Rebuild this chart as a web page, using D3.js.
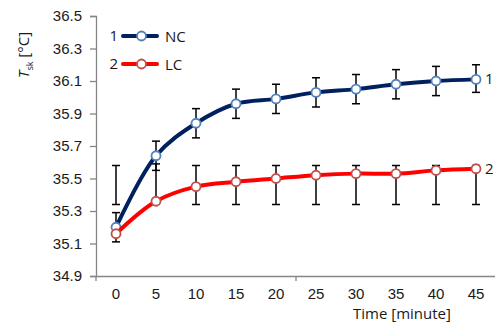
<!DOCTYPE html>
<html>
<head>
<meta charset="utf-8">
<script src="https://cdn.jsdelivr.net/npm/d3@7"></script>
<style>
  body { margin: 0; background: #fff; }
  svg { font-family: "Open Sans", sans-serif; }
</style>
</head>
<body>
<svg id="chart" width="495" height="325"></svg>
<script>
// time points (minutes)
var times = [0, 5, 10, 15, 20, 25, 30, 35, 40, 45];

// NC series + error bars
var ncMean = [35.20, 35.64, 35.84, 35.96, 35.99, 36.03, 36.05, 36.08, 36.10, 36.11];
var ncLow  = [35.11, 35.55, 35.75, 35.87, 35.90, 35.94, 35.96, 35.99, 36.01, 36.03];
var ncHigh = [35.29, 35.73, 35.93, 36.05, 36.08, 36.12, 36.14, 36.17, 36.19, 36.20];

// LC series + error bars (as drawn in the original)
var lcMean = [35.16, 35.36, 35.45, 35.48, 35.50, 35.52, 35.53, 35.53, 35.55, 35.56];
var lcLow  = [35.34, 35.36, 35.34, 35.34, 35.34, 35.34, 35.34, 35.34, 35.34, 35.34];
var lcHigh = [35.58, 35.59, 35.58, 35.58, 35.58, 35.58, 35.58, 35.58, 35.58, 35.58];

var yTicks = [34.9, 35.1, 35.3, 35.5, 35.7, 35.9, 36.1, 36.3, 36.5];

var svg = d3.select("#chart");
var plotLeft = 96, plotRight = 496, plotTop = 16, plotBottom = 276;

var x = d3.scaleBand().domain(times).range([plotLeft, plotRight]).padding(0);
var y = d3.scaleLinear().domain([34.9, 36.5]).range([plotBottom, plotTop]);
var cx = function(i) { return x(times[i]) + x.bandwidth() / 2; };

var axisColor = "#868686", textColor = "#1a1a1a";

// y axis
var yAxis = svg.append("g")
    .attr("transform", "translate(" + plotLeft + ",0)")
    .call(d3.axisLeft(y).tickValues(yTicks).tickSize(6).tickPadding(8)
        .tickFormat(d3.format(".1f")));
yAxis.select(".domain").attr("stroke", axisColor).attr("stroke-width", 1.3);
yAxis.selectAll(".tick line").attr("stroke", axisColor).attr("stroke-width", 1.3);
yAxis.selectAll("text").attr("fill", textColor).style("font-size", "15px");

// x axis: labels centred, ticks every 5 categories on the boundaries
var xAxis = svg.append("g")
    .attr("transform", "translate(0," + plotBottom + ")")
    .call(d3.axisBottom(x).tickSize(0).tickPadding(12));
xAxis.select(".domain").attr("stroke", axisColor).attr("stroke-width", 1.3);
xAxis.selectAll("text").attr("fill", textColor).style("font-size", "15px");
xAxis.selectAll(".bticks")
    .data([0, 5, 10])
    .enter().append("line")
    .attr("x1", function(d) { return plotLeft + d * x.bandwidth(); })
    .attr("x2", function(d) { return plotLeft + d * x.bandwidth(); })
    .attr("y1", 0).attr("y2", 5)
    .attr("stroke", axisColor).attr("stroke-width", 1.3);

// axis titles
svg.append("text")
    .attr("x", 402).attr("y", 319)
    .attr("text-anchor", "middle")
    .attr("fill", textColor)
    .style("font-size", "15px")
    .text("Time [minute]");

var yt = svg.append("text")
    .attr("transform", "translate(29,55) rotate(-90)")
    .attr("text-anchor", "middle")
    .attr("fill", textColor)
    .style("font-size", "15px");
yt.append("tspan").style("font-style", "italic").text("T");
yt.append("tspan").attr("dy", 4).style("font-size", "9px").text("sk");
yt.append("tspan").attr("dy", -4).text(" [°C]");

// series
var series = [
  { mean: ncMean, low: ncLow, high: ncHigh, line: "#002060", mark: "#4f81bd", label: "1", name: "NC" },
  { mean: lcMean, low: lcLow, high: lcHigh, line: "#ff0000", mark: "#c0504d", label: "2", name: "LC" }
];

// error bars
series.forEach(function(s) {
  var g = svg.append("g").attr("stroke", "#000").attr("stroke-width", 1.5);
  times.forEach(function(t, i) {
    var px = cx(i);
    g.append("line").attr("x1", px).attr("x2", px)
      .attr("y1", y(s.low[i])).attr("y2", y(s.high[i]));
    [s.low[i], s.high[i]].forEach(function(v) {
      g.append("line").attr("x1", px - 4).attr("x2", px + 4)
        .attr("y1", y(v)).attr("y2", y(v));
    });
  });
});

var line = d3.line()
    .x(function(d, i) { return cx(i); })
    .y(function(d) { return y(d); })
    .curve(d3.curveCatmullRom.alpha(0.5));

series.forEach(function(s) {
  svg.append("path")
    .datum(s.mean)
    .attr("d", line)
    .attr("fill", "none")
    .attr("stroke", s.line)
    .attr("stroke-width", 4)
    .attr("stroke-linejoin", "round");

  svg.selectAll(null)
    .data(s.mean)
    .enter().append("circle")
    .attr("cx", function(d, i) { return cx(i); })
    .attr("cy", function(d) { return y(d); })
    .attr("r", 4.5)
    .attr("fill", "#fff")
    .attr("stroke", s.mark)
    .attr("stroke-width", 1.8);

  // end label
  svg.append("text")
    .attr("x", cx(times.length - 1) + 9)
    .attr("y", y(s.mean[s.mean.length - 1]) + 5)
    .attr("fill", textColor)
    .style("font-size", "15px")
    .text(s.label);
});

// legend
series.forEach(function(s, k) {
  var ly = 36 + k * 28;
  var lg = svg.append("g");
  lg.append("text").attr("x", 118).attr("y", ly + 5)
    .attr("text-anchor", "end").attr("fill", textColor)
    .style("font-size", "15px").text(s.label);
  lg.append("line").attr("x1", 123).attr("x2", 157)
    .attr("y1", ly).attr("y2", ly)
    .attr("stroke", s.line).attr("stroke-width", 4).attr("stroke-linecap", "round");
  lg.append("circle").attr("cx", 141.5).attr("cy", ly).attr("r", 4.5)
    .attr("fill", "#fff").attr("stroke", s.mark).attr("stroke-width", 1.8);
  lg.append("text").attr("x", 165).attr("y", ly + 5.5)
    .attr("fill", textColor).style("font-size", "15px").text(s.name);
});
</script>
</body>
</html>
